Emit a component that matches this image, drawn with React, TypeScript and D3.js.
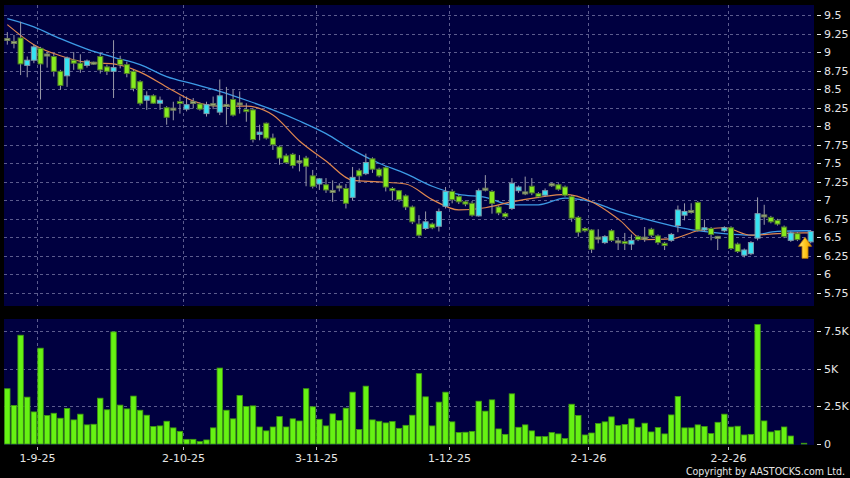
import React from 'react';
import * as d3 from 'd3';

// ---- data ----
const opens = [
  9.17, 9.13, 9.19, 8.82, 8.89, 9.05, 8.96, 8.94, 8.74, 8.68,
  8.89, 8.85, 8.82, 8.85, 8.94, 8.80, 8.74, 8.90, 8.83, 8.74,
  8.60, 8.35, 8.41, 8.31, 8.25, 8.23, 8.32, 8.23, 8.32, 8.30,
  8.17, 8.29, 8.19, 8.28, 8.36, 8.30, 8.21, 8.22, 7.89, 8.04,
  7.84, 7.72, 7.60, 7.62, 7.52, 7.57, 7.33, 7.22, 7.21, 7.12,
  7.18, 7.16, 7.04, 7.40, 7.36, 7.56, 7.42, 7.44, 7.16, 7.13,
  7.06, 6.91, 6.68, 6.62, 6.68, 6.65, 6.92, 7.12, 7.05, 6.98,
  6.96, 6.79, 7.15, 7.12, 6.91, 6.82, 6.89, 7.13, 7.10, 7.19,
  7.09, 7.07, 7.21, 7.21, 7.18, 7.05, 6.77, 6.62, 6.60, 6.49,
  6.43, 6.59, 6.44, 6.43, 6.41, 6.51, 6.49, 6.61, 6.52, 6.42,
  6.46, 6.66, 6.80, 6.85, 6.97, 6.60, 6.62, 6.50, 6.59, 6.63,
  6.41, 6.26, 6.28, 6.49, 6.79, 6.77, 6.73, 6.64, 6.46, 6.55,
  6.42, 6.44,
];
const highs = [
  9.27, 9.23, 9.41, 8.94, 9.10, 9.07, 9.00, 8.98, 8.76, 8.94,
  9.00, 8.97, 8.90, 8.87, 8.99, 8.83, 9.16, 8.95, 8.87, 8.76,
  8.62, 8.47, 8.43, 8.40, 8.27, 8.33, 8.40, 8.40, 8.38, 8.32,
  8.33, 8.40, 8.63, 8.53, 8.49, 8.47, 8.31, 8.24, 8.02, 8.05,
  7.90, 7.74, 7.63, 7.64, 7.61, 7.60, 7.41, 7.30, 7.30, 7.27,
  7.23, 7.22, 7.45, 7.43, 7.63, 7.58, 7.44, 7.46, 7.18, 7.14,
  7.08, 6.93, 6.80, 6.85, 6.70, 6.89, 7.18, 7.15, 7.08, 7.00,
  6.99, 7.16, 7.34, 7.14, 6.93, 6.84, 7.30, 7.20, 7.32, 7.30,
  7.11, 7.16, 7.24, 7.23, 7.20, 7.07, 6.79, 6.64, 6.61, 6.61,
  6.53, 6.61, 6.49, 6.56, 6.54, 6.53, 6.64, 6.63, 6.54, 6.44,
  6.56, 6.93, 6.96, 6.96, 6.99, 6.74, 6.64, 6.52, 6.65, 6.65,
  6.43, 6.35, 6.45, 7.04, 6.94, 6.79, 6.75, 6.66, 6.58, 6.57,
  6.43, 6.60,
];
const lows = [
  9.10, 9.05, 8.69, 8.66, 8.85, 8.36, 8.79, 8.67, 8.49, 8.53,
  8.76, 8.72, 8.79, 8.83, 8.71, 8.69, 8.38, 8.78, 8.66, 8.47,
  8.28, 8.22, 8.30, 8.22, 8.02, 8.08, 8.17, 8.20, 8.24, 8.21,
  8.13, 8.23, 8.15, 8.02, 8.13, 8.17, 8.06, 7.78, 7.81, 7.82,
  7.68, 7.48, 7.49, 7.43, 7.39, 7.19, 7.16, 7.14, 7.10, 6.98,
  7.12, 6.89, 7.00, 7.25, 7.34, 7.37, 7.31, 7.12, 7.00, 6.98,
  6.87, 6.68, 6.51, 6.60, 6.61, 6.58, 6.89, 6.96, 6.95, 6.92,
  6.78, 6.78, 7.12, 6.82, 6.80, 6.76, 6.87, 7.10, 7.07, 7.07,
  7.03, 7.05, 7.18, 7.13, 7.05, 6.71, 6.51, 6.57, 6.29, 6.42,
  6.41, 6.44, 6.33, 6.33, 6.33, 6.45, 6.44, 6.50, 6.40, 6.33,
  6.44, 6.57, 6.73, 6.82, 6.58, 6.58, 6.46, 6.33, 6.57, 6.33,
  6.29, 6.23, 6.26, 6.46, 6.67, 6.69, 6.66, 6.49, 6.44, 6.45,
  6.41, 6.42,
];
const closes = [
  9.17, 9.13, 8.84, 8.89, 9.07, 8.84, 8.96, 8.74, 8.55, 8.92,
  8.85, 8.77, 8.88, 8.85, 8.76, 8.74, 8.79, 8.83, 8.71, 8.51,
  8.31, 8.41, 8.31, 8.35, 8.12, 8.23, 8.31, 8.29, 8.32, 8.23,
  8.29, 8.29, 8.41, 8.28, 8.15, 8.30, 8.19, 7.82, 7.92, 7.84,
  7.75, 7.57, 7.51, 7.47, 7.52, 7.46, 7.19, 7.29, 7.14, 7.12,
  7.18, 6.96, 7.31, 7.33, 7.51, 7.42, 7.33, 7.18, 7.13, 7.01,
  6.91, 6.71, 6.53, 6.71, 6.63, 6.85, 7.12, 7.01, 6.98, 6.95,
  6.80, 7.13, 7.15, 6.96, 6.83, 6.78, 7.23, 7.18, 7.10, 7.10,
  7.05, 7.13, 7.21, 7.15, 7.07, 6.76, 6.57, 6.59, 6.34, 6.49,
  6.51, 6.46, 6.44, 6.41, 6.46, 6.47, 6.49, 6.53, 6.43, 6.39,
  6.54, 6.87, 6.85, 6.85, 6.60, 6.63, 6.54, 6.50, 6.63, 6.35,
  6.31, 6.33, 6.43, 6.82, 6.79, 6.71, 6.68, 6.51, 6.56, 6.47,
  6.42, 6.58,
];
// volume in thousands of shares
const volumesK = [
  3.67, 2.56, 7.22, 3.11, 2.13, 6.36, 1.89, 2.04, 1.71, 2.36,
  1.60, 1.98, 1.27, 1.31, 3.04, 2.27, 7.44, 2.58, 2.33, 3.18,
  2.24, 1.91, 1.16, 1.20, 1.51, 1.07, 0.84, 0.31, 0.31, 0.16,
  0.27, 1.07, 5.04, 2.24, 1.67, 3.22, 2.49, 2.53, 1.13, 0.87,
  1.13, 1.82, 1.13, 1.67, 1.53, 3.67, 2.47, 1.64, 1.20, 2.00,
  1.56, 2.38, 3.44, 0.96, 3.84, 1.60, 1.51, 1.40, 1.49, 1.04,
  1.24, 1.91, 4.67, 3.13, 1.20, 2.78, 3.44, 1.47, 0.76, 0.78,
  0.84, 2.84, 2.18, 2.93, 1.00, 0.64, 3.33, 1.11, 1.27, 0.87,
  0.49, 0.49, 0.76, 0.67, 0.36, 2.64, 1.89, 0.60, 0.73, 1.36,
  1.47, 1.80, 1.22, 1.29, 1.67, 1.11, 1.38, 0.80, 1.09, 0.67,
  1.93, 3.16, 1.07, 1.07, 1.27, 1.16, 0.69, 1.44, 1.98, 1.13,
  1.18, 0.60, 0.64, 7.93, 1.53, 0.80, 0.89, 1.13, 0.53, 0.00,
  0.05, 0.00,
];
// moving averages, sampled every MA_STEP bars plus the last bar
const MA_STEP = 4;
const maShort = [
  9.37, 9.10, 8.95, 8.86, 8.84, 8.73, 8.53, 8.34, 8.27, 8.27,
  8.15, 7.80, 7.53, 7.27, 7.25, 7.22, 7.01, 6.87, 6.90, 6.98,
  7.04, 7.08, 6.98, 6.75, 6.47, 6.48, 6.59, 6.63, 6.53, 6.55,
  6.56, 6.56,
];
const maLong = [
  9.45, 9.34, 9.18, 9.04, 8.93, 8.83, 8.67, 8.57, 8.47, 8.35,
  8.22, 8.07, 7.90, 7.68, 7.50, 7.36, 7.19, 7.08, 7.04, 6.94,
  6.94, 7.03, 6.98, 6.85, 6.75, 6.66, 6.59, 6.55, 6.53, 6.58,
  6.59, 6.59,
];
const priceTicks = [5.75, 6, 6.25, 6.5, 6.75, 7, 7.25, 7.5, 7.75, 8, 8.25, 8.5, 8.75, 9, 9.25, 9.5];
const volumeTicks = [0, 2500, 5000, 7500];
const volumeTickLabels = ['0', '2.5K', '5K', '7.5K'];
const dateTickIndex = [5, 27, 47, 67, 88, 109];
const dateTickLabels = ['1-9-25', '2-10-25', '3-11-25', '1-12-25', '2-1-26', '2-2-26'];

const W = 850;
const H = 478;
const PLOT_L = 4;
const PLOT_R = 814;
const TOP_Y0 = 5;
const TOP_Y1 = 306;
const VOL_Y0 = 319;
const VOL_Y1 = 444;

const FONT = "'DejaVu Sans', sans-serif";
const GRID = '#5c5c8e';
const TEXT = '#e6e6e6';

export default function App() {
  const n = closes.length;
  const x = d3.scaleBand<number>().domain(d3.range(n)).range([PLOT_L, PLOT_R]);
  const step = x.step();
  const cx = (i: number) => (x(i) as number) + x.bandwidth() / 2;
  const y = d3.scaleLinear().domain([5.75, 9.5]).range([293, 15]);
  const yv = d3.scaleLinear().domain([0, 7500]).range([VOL_Y1, 331]);

  const maIdx = [...d3.range(0, n, MA_STEP), n - 1];
  const maLine = (vals: number[]) =>
    d3
      .line<number>()
      .x((_, k) => cx(maIdx[k]))
      .y((d) => y(d))
      .curve(d3.curveMonotoneX)(vals) || '';

  const bodyW = step - 1.6;
  const volW = step - 1.2;

  const last = n - 1;
  const ax = cx(last - 1) + 1;
  const ay = y(lows[last]) - 6;
  const arrow = `M${ax},${ay} L${ax + 6.5},${ay + 9} L${ax + 3},${ay + 9} L${ax + 3},${ay + 21} L${ax - 3},${ay + 21} L${ax - 3},${ay + 9} L${ax - 6.5},${ay + 9} Z`;

  return (
    <svg
      width={W}
      height={H}
      style={{ position: 'absolute', left: 0, top: 0, display: 'block' }}
      fontFamily={FONT}
    >
      <defs>
        <linearGradient id="arrowGrad" x1="0" y1="0" x2="1" y2="0">
          <stop offset="0" stopColor="#ffe680" />
          <stop offset="0.5" stopColor="#ffc81e" />
          <stop offset="1" stopColor="#e89a00" />
        </linearGradient>
      </defs>
      <rect x={0} y={0} width={W} height={H} fill="#000" />
      <rect x={PLOT_L} y={TOP_Y0} width={PLOT_R - PLOT_L} height={TOP_Y1 - TOP_Y0} fill="#000040" />
      <rect x={PLOT_L} y={VOL_Y0} width={PLOT_R - PLOT_L} height={VOL_Y1 - VOL_Y0 + 1} fill="#000040" />

      {/* price grid */}
      {priceTicks.map((p) => (
        <line key={'pg' + p} x1={PLOT_L} x2={PLOT_R} y1={Math.round(y(p)) + 0.5} y2={Math.round(y(p)) + 0.5}
          stroke={GRID} strokeDasharray="3,3" />
      ))}
      {volumeTicks.filter((v) => v > 0).map((v) => (
        <line key={'vg' + v} x1={PLOT_L} x2={PLOT_R} y1={Math.round(yv(v)) + 0.5} y2={Math.round(yv(v)) + 0.5}
          stroke={GRID} strokeDasharray="3,3" />
      ))}
      {dateTickIndex.map((i) => {
        const gx = Math.round(x(i) as number) + 0.5;
        return (
          <g key={'dg' + i}>
            <line x1={gx} x2={gx} y1={TOP_Y0} y2={TOP_Y1} stroke={GRID} strokeDasharray="3,3" />
            <line x1={gx} x2={gx} y1={VOL_Y0} y2={VOL_Y1} stroke={GRID} strokeDasharray="3,3" />
          </g>
        );
      })}

      {/* moving averages */}
      <path d={maLine(maLong)} fill="none" stroke="#3d9be6" strokeWidth={1.3} />
      <path d={maLine(maShort)} fill="none" stroke="#e0874f" strokeWidth={1.2} />

      {/* candles */}
      {closes.map((c, i) => {
        const o = opens[i];
        const up = c > o + 0.005;
        const down = c < o - 0.005;
        const fill = up ? '#36e3f2' : down ? '#86ea1e' : '#9fb27a';
        const stroke = up ? '#7f98a8' : down ? '#4f7a2c' : '#6e7d58';
        const top = y(Math.max(o, c));
        const bot = y(Math.min(o, c));
        const h = Math.max(bot - top, 2);
        const xc = cx(i);
        return (
          <g key={'c' + i}>
            <line x1={xc} x2={xc} y1={y(highs[i])} y2={y(lows[i])} stroke="#9a9aa8" strokeWidth={1} />
            <rect x={xc - bodyW / 2} y={top - (h > bot - top ? 1 : 0)} width={bodyW} height={h}
              fill={fill} stroke={stroke} strokeWidth={1} />
          </g>
        );
      })}

      {/* arrow marker */}
      <path d={arrow} fill="url(#arrowGrad)" stroke="#c07a00" strokeWidth={0.8} />

      {/* volume bars */}
      {volumesK.map((v, i) => {
        const top = yv(v * 1000);
        const h = VOL_Y1 - top;
        if (h <= 0.2) return null;
        return (
          <rect key={'v' + i} x={cx(i) - volW / 2} y={top} width={volW} height={h}
            fill="#66f213" stroke="#3f9a10" strokeWidth={0.8} />
        );
      })}

      {/* price axis */}
      {priceTicks.map((p) => (
        <g key={'pl' + p}>
          <line x1={817} x2={821} y1={Math.round(y(p)) + 0.5} y2={Math.round(y(p)) + 0.5} stroke={TEXT} />
          <text x={824} y={y(p) + 4} fill={TEXT} fontSize={11}>{String(p)}</text>
        </g>
      ))}
      {/* volume axis */}
      {volumeTicks.map((v, k) => (
        <g key={'vl' + v}>
          <line x1={817} x2={821} y1={Math.round(yv(v)) + 0.5} y2={Math.round(yv(v)) + 0.5} stroke={TEXT} />
          <text x={824} y={yv(v) + 4} fill={TEXT} fontSize={11}>{volumeTickLabels[k]}</text>
        </g>
      ))}
      {/* date axis */}
      {dateTickIndex.map((i, k) => {
        const gx = Math.round(x(i) as number) + 0.5;
        return (
          <g key={'dl' + i}>
            <line x1={gx} x2={gx} y1={VOL_Y1 + 3} y2={VOL_Y1 + 6} stroke="#bbbbbb" />
            <text x={gx} y={462} fill={TEXT} fontSize={11} textAnchor="middle">{dateTickLabels[k]}</text>
          </g>
        );
      })}
      <text x={845} y={475} fill={TEXT} fontSize={10.5} textAnchor="end"
        fontFamily="'DejaVu Sans Condensed', 'DejaVu Sans', sans-serif">Copyright by AASTOCKS.com Ltd.</text>
    </svg>
  );
}
